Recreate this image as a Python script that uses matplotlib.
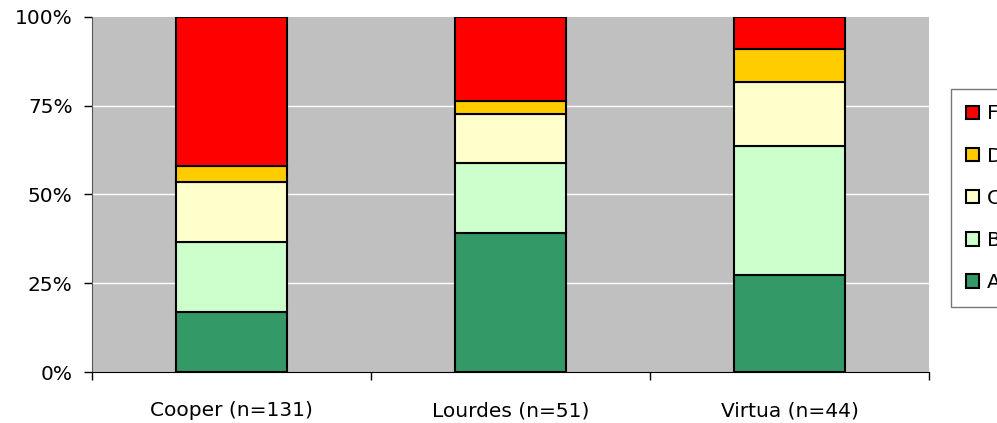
import numpy as np
import matplotlib.pyplot as plt
from matplotlib.ticker import FixedLocator

plt.rcParams['font.family'] = ['DejaVu Sans']

sites = ['Cooper (n=131)', 'Lourdes (n=51)', 'Virtua (n=44)']
grades = ['A', 'B', 'C', 'D', 'F']
# counts per grade
grade_a = [22, 20, 12]
grade_b = [26, 10, 16]
grade_c = [22, 7, 8]
grade_d = [6, 2, 4]
grade_f = [55, 12, 4]
colors = ['#339966', '#CCFFCC', '#FFFFCC', '#FFCC00', '#FF0000']
yticks = [0, 25, 50, 75, 100]

counts = np.array([grade_a, grade_b, grade_c, grade_d, grade_f], dtype=float)
pct = counts / counts.sum(axis=0) * 100

fig = plt.figure(figsize=(9.97, 4.23), dpi=100)
ax = fig.add_axes([92/997, 1-372/423, (929-92)/997, (372-17)/423])
ax.set_facecolor('#C0C0C0')

x = np.arange(len(sites))
bottom = np.zeros(len(sites))
bars = []
for i, g in enumerate(grades):
    b = ax.bar(x, pct[i], 0.4, bottom=bottom, color=colors[i],
               edgecolor='black', linewidth=1.5, label=g, zorder=3)
    bars.append(b)
    bottom += pct[i]

ax.set_xlim(-0.5, 2.5)
ax.set_ylim(0, 100)
ax.set_yticks(yticks)
ax.set_yticklabels([f'{v}%' for v in yticks], fontsize=14.5)
for v in yticks[1:-1]:
    ax.axhline(v, color='white', lw=1, zorder=1)

ax.set_xticks(x)
ax.set_xticklabels(sites, fontsize=14.5)
ax.tick_params(axis='x', which='major', length=0, pad=21)
ax.xaxis.set_minor_locator(FixedLocator([-0.5, 0.5, 1.5, 2.5]))
ax.tick_params(axis='x', which='minor', length=6, width=1, direction='out')
ax.tick_params(axis='y', length=6, width=1, pad=8, direction='out')

for s in ['top', 'right']:
    ax.spines[s].set_visible(False)
ax.spines['left'].set_color('#555555')
ax.spines['bottom'].set_color('black')

leg = fig.legend(handles=bars[::-1], labels=grades[::-1], loc='upper left',
                 bbox_to_anchor=(950.7/997, 1-89.3/423), borderaxespad=0,
                 fontsize=14.5, frameon=True, fancybox=False, edgecolor='#555555',
                 handlelength=0.65, handleheight=0.65, handletextpad=0.4,
                 labelspacing=1.15, borderpad=0.75)
leg.get_frame().set_linewidth(1)

fig.savefig('out.png', dpi=100)
